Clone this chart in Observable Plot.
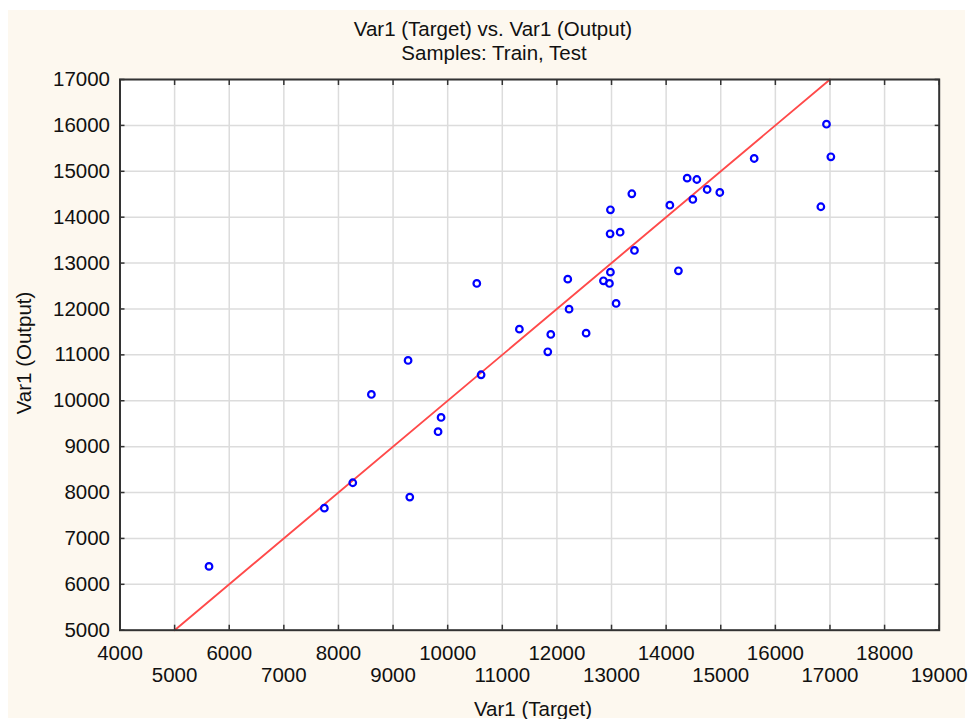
<!DOCTYPE html>
<html>
<head>
<meta charset="utf-8">
<script src="https://cdn.jsdelivr.net/npm/d3@7"></script>
<script src="https://cdn.jsdelivr.net/npm/@observablehq/plot@0.6"></script>
<style>
  html, body { margin: 0; padding: 0; background: #ffffff; }
  #wrap { position: relative; width: 969px; height: 719px; overflow: hidden;
          font-family: "Liberation Sans", Arial, sans-serif; color: #111111; }
  #bg { position: absolute; left: 8px; top: 10px; width: 957px; height: 708px; background: #fdf8ef; }
  #chart { position: absolute; left: 0; top: 0; }
  .lbl { position: absolute; font-size: 20.5px; line-height: 20.5px; white-space: nowrap; }
</style>
</head>
<body>
<div id="wrap">
  <div id="bg"></div>
  <div id="chart"></div>
  <div class="lbl" id="title" style="left:493px; top:19.4px; transform:translateX(-50%);">Var1 (Target) vs. Var1 (Output)</div>
  <div class="lbl" id="subtitle" style="left:494px; top:43.4px; transform:translateX(-50%);">Samples: Train, Test</div>
  <div class="lbl" id="xlabel" style="left:533px; top:699px; transform:translateX(-50%);">Var1 (Target)</div>
  <div class="lbl" id="ylabel" style="left:24px; top:353px; transform:translate(-50%,-50%) rotate(-90deg);">Var1 (Output)</div>
</div>
<script>
// Data
const targetValues = [5630, 7742, 8262, 9306, 8603, 9275, 9879, 9824, 10612, 10533, 11313, 11888, 11833, 12535, 12223, 12199, 12852, 12962, 12980, 13084, 13420, 12974, 13158, 12980, 13372, 14068, 14225, 14385, 14562, 14489, 14751, 14983, 15612, 16936, 17016, 16833];
const outputValues = [6390, 7660, 8213, 7900, 10137, 10878, 9636, 9325, 10566, 12556, 11560, 11444, 11067, 11473, 11996, 12649, 12614, 12556, 12802, 12120, 13275, 13638, 13673, 14161, 14510, 14261, 12832, 14850, 14821, 14386, 14603, 14538, 15279, 16026, 15316, 14227];

// Reference line (Target = Output)
const refLineX = [5000, 17000];
const refLineY = [5000, 17000];

// Tick labels
const xTicksAll = [4000, 5000, 6000, 7000, 8000, 9000, 10000, 11000, 12000, 13000, 14000, 15000, 16000, 17000, 18000, 19000];
const xTicksEven = [4000, 6000, 8000, 10000, 12000, 14000, 16000, 18000];
const xTicksOdd = [5000, 7000, 9000, 11000, 13000, 15000, 17000, 19000];
const yTicks = [5000, 6000, 7000, 8000, 9000, 10000, 11000, 12000, 13000, 14000, 15000, 16000, 17000];

const points = targetValues.map((t, i) => ({target: t, output: outputValues[i]}));
const refLine = refLineX.map((x, i) => ({x, y: refLineY[i]}));

const textColor = "#111111";
const fs = 20.5;
const gridStyle = {stroke: "#dcdcdc", strokeOpacity: 1, strokeWidth: 1.5};
const tickStyle = {tickSize: -5, tickFormat: () => "", stroke: "#333333", strokeWidth: 1.5, label: null};

const chart = Plot.plot({
  width: 969,
  height: 719,
  marginLeft: 119.5,
  marginTop: 79,
  marginRight: 30.3,
  marginBottom: 89.3,
  x: {domain: [4000, 19000], axis: null},
  y: {domain: [5000, 17000], axis: null},
  style: {background: "transparent", fontFamily: "'Liberation Sans', Arial, sans-serif", fontSize: fs + "px", color: textColor},
  marks: [
    Plot.frame({fill: "white", stroke: null}),
    Plot.gridX(xTicksAll, gridStyle),
    Plot.gridY(yTicks, gridStyle),
    Plot.line(refLine, {x: "x", y: "y", stroke: "#ff4a4a", strokeWidth: 1.9}),
    Plot.dot(points, {x: "target", y: "output", r: 3.3, stroke: "#0000ff", strokeWidth: 2.2, fill: "none"}),
    Plot.frame({stroke: "#333333", strokeWidth: 2}),
    // inward tick marks on all four sides
    Plot.axisX(xTicksAll, {anchor: "bottom", ...tickStyle}),
    Plot.axisX(xTicksAll, {anchor: "top", ...tickStyle}),
    Plot.axisY(yTicks, {anchor: "left", ...tickStyle}),
    Plot.axisY(yTicks, {anchor: "right", ...tickStyle}),
    // tick labels
    Plot.axisX(xTicksEven, {anchor: "bottom", tickSize: 0, tickPadding: 15, fontSize: fs, fill: textColor, label: null, tickFormat: d => String(d)}),
    Plot.axisX(xTicksOdd, {anchor: "bottom", tickSize: 0, tickPadding: 37.6, fontSize: fs, fill: textColor, label: null, tickFormat: d => String(d)}),
    Plot.axisY(yTicks, {anchor: "left", tickSize: 0, tickPadding: 10, fontSize: fs, fill: textColor, label: null, tickFormat: d => String(d)})
  ]
});
document.getElementById("chart").appendChild(chart);
</script>
</body>
</html>
